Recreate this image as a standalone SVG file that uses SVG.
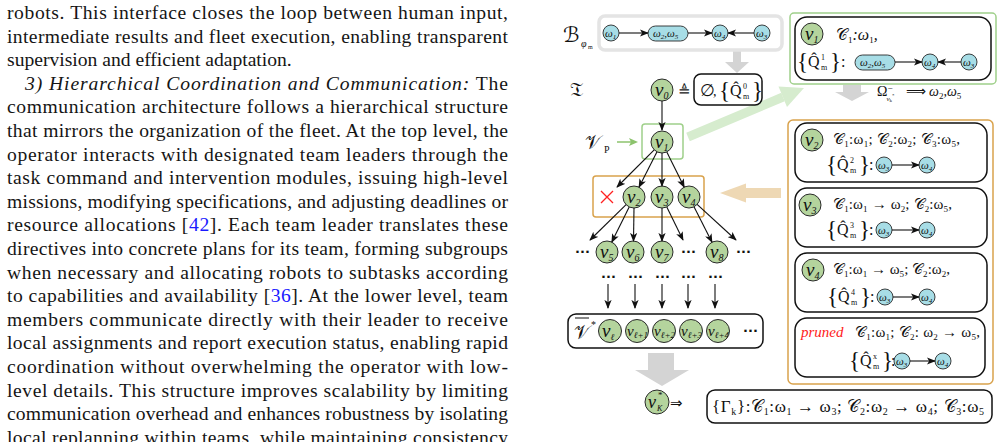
<svg xmlns="http://www.w3.org/2000/svg" width="1000" height="442" viewBox="0 0 1000 442">
<defs>
<style>
.t{font-family:"Liberation Serif",serif;font-size:19.6px;fill:#151515}
.i{font-style:italic}
.lk{fill:#1a1aff}
.m{font-family:"Liberation Serif","DejaVu Serif",serif;fill:#111}
.mi{font-family:"Liberation Serif","DejaVu Serif",serif;font-style:italic;fill:#111}
.sym{font-family:"DejaVu Sans","DejaVu Serif",serif;fill:#111}
.g{fill:#b4d49d;stroke:#2a2a2a;stroke-width:1}
.c{fill:#a7dde6;stroke:#2a2a2a;stroke-width:0.9}
.e{stroke:#111;stroke-width:1.1;fill:none;marker-end:url(#ah)}
.bx{fill:#fff;stroke:#111;stroke-width:1.5}
.dots{font-family:"DejaVu Sans",sans-serif;font-size:13px;font-weight:bold;fill:#111}
</style>
<marker id="ah" viewBox="0 0 10 8" refX="9" refY="4" markerWidth="9" markerHeight="7.2" markerUnits="userSpaceOnUse" orient="auto">
<path d="M0,0 L10,4 L0,8 L2.5,4 z" fill="#111"/>
</marker>
<clipPath id="cl1"><circle cx="637" cy="331" r="11.5"/></clipPath>
<clipPath id="cl2"><circle cx="664" cy="331" r="11.5"/></clipPath>
<clipPath id="cl3"><circle cx="691" cy="331" r="11.5"/></clipPath>
<clipPath id="cl4"><circle cx="718" cy="331" r="11.5"/></clipPath>
</defs>
<rect width="1000" height="442" fill="#fff"/>

<g id="paragraph" class="t">
<text x="7" y="19" textLength="501" lengthAdjust="spacing">robots. This interface closes the loop between human input,</text>
<text x="7" y="42.6" textLength="501" lengthAdjust="spacing">intermediate results and fleet execution, enabling transparent</text>
<text x="7" y="66.2">supervision and efficient adaptation.</text>
<text x="25" y="89.8" textLength="483" lengthAdjust="spacing"><tspan class="i">3) Hierarchical Coordination and Communication:</tspan> The</text>
<text x="7" y="113.4" textLength="501" lengthAdjust="spacing">communication architecture follows a hierarchical structure</text>
<text x="7" y="137" textLength="501" lengthAdjust="spacing">that mirrors the organization of the fleet. At the top level, the</text>
<text x="7" y="160.6" textLength="501" lengthAdjust="spacing">operator interacts with designated team leaders through the</text>
<text x="7" y="184.2" textLength="501" lengthAdjust="spacing">task command and intervention modules, issuing high-level</text>
<text x="7" y="207.8" textLength="501" lengthAdjust="spacing">missions, modifying specifications, and adjusting deadlines or</text>
<text x="7" y="231.4" textLength="501" lengthAdjust="spacing">resource allocations [<tspan class="lk">42</tspan>]. Each team leader translates these</text>
<text x="7" y="255" textLength="501" lengthAdjust="spacing">directives into concrete plans for its team, forming subgroups</text>
<text x="7" y="278.6" textLength="501" lengthAdjust="spacing">when necessary and allocating robots to subtasks according</text>
<text x="7" y="302.2" textLength="501" lengthAdjust="spacing">to capabilities and availability [<tspan class="lk">36</tspan>]. At the lower level, team</text>
<text x="7" y="325.8" textLength="501" lengthAdjust="spacing">members communicate directly with their leader to receive</text>
<text x="7" y="349.4" textLength="501" lengthAdjust="spacing">local assignments and report execution status, enabling rapid</text>
<text x="7" y="373" textLength="501" lengthAdjust="spacing">coordination without overwhelming the operator with low-</text>
<text x="7" y="396.6" textLength="501" lengthAdjust="spacing">level details. This structure improves scalability by limiting</text>
<text x="7" y="420.2" textLength="501" lengthAdjust="spacing">communication overhead and enhances robustness by isolating</text>
<text x="7" y="443.8" textLength="501" lengthAdjust="spacing">local replanning within teams, while maintaining consistency</text>
</g>

<g id="big-arrows">
<rect x="733" y="50" width="8" height="13" fill="#d4d4d4"/>
<polygon points="725,62 749,62 737,73" fill="#d4d4d4"/>
<line x1="688" y1="137" x2="783" y2="97" stroke="#d6ecce" stroke-width="9"/>
<polygon points="804,88 787,107 778.5,86.5" fill="#d6ecce"/>
<rect x="745" y="188" width="36" height="10" fill="#eed8b4"/>
<polygon points="720,193 746,183.5 746,202.5" fill="#eed8b4"/>
<rect x="648" y="353" width="26" height="18" fill="#d4d4d4"/>
<polygon points="635,370 689,370 662,386" fill="#d4d4d4"/>
<rect x="843" y="85" width="18" height="8" fill="#d4d4d4"/>
<polygon points="835,92 869,92 852,101" fill="#d4d4d4"/>
</g>

<g id="buchi">
<text x="563" y="42" class="sym" font-size="21">ℬ</text>
<text x="581" y="47" class="mi" font-size="10">φ</text>
<text x="588" y="49" class="m" font-size="6">m</text>
<rect x="599" y="16" width="183" height="34" rx="6" fill="#fff" stroke="#e4e4e4" stroke-width="3.5"/>
<circle class="c" cx="611" cy="33" r="8"/>
<text x="605" y="37" class="mi" font-size="11">ω<tspan font-size="7" dy="2">1</tspan></text>
<rect class="c" x="648" y="26" width="40" height="15" rx="7.5"/>
<text x="653" y="37" class="mi" font-size="11">ω<tspan font-size="7" dy="2">2</tspan><tspan dy="-2">,ω</tspan><tspan font-size="7" dy="2">5</tspan></text>
<circle class="c" cx="720" cy="33" r="8"/>
<text x="714" y="37" class="mi" font-size="11">ω<tspan font-size="7" dy="2">4</tspan></text>
<circle class="c" cx="762" cy="33" r="8"/>
<text x="756" y="37" class="mi" font-size="11">ω<tspan font-size="7" dy="2">3</tspan></text>
<line class="e" x1="619" y1="33" x2="648" y2="33"/>
<line class="e" x1="688" y1="33" x2="712" y2="33"/>
<line class="e" x1="754" y1="33" x2="728" y2="33"/>
</g>

<g id="root">
<text x="570" y="96" class="sym" font-size="20">𝔗</text>
<circle class="g" cx="662" cy="90" r="11"/>
<text x="655" y="96" class="mi" font-size="19">ν<tspan font-size="10" dy="3">0</tspan></text>
<text x="678" y="96" class="m" font-size="15">≜</text>
<rect class="bx" x="694" y="74" width="68" height="31" rx="7"/>
<text x="700" y="96" class="m" font-size="17">∅</text>
<text x="713" y="96" class="m" font-size="14">,</text>
<text x="719" y="98" class="m" font-size="23">{</text>
<text x="730" y="96" class="m" font-size="16">Q̂</text>
<text x="743" y="89" class="m" font-size="8">0</text>
<text x="743" y="99" class="m" font-size="8">m</text>
<text x="752" y="98" class="m" font-size="23">}</text>
</g>

<g id="nu1">
<rect x="642" y="124" width="41" height="35" rx="3" fill="none" stroke="#9fd08a" stroke-width="1.5"/>
<circle class="g" cx="662" cy="142" r="11"/>
<text x="655" y="148" class="mi" font-size="19">ν<tspan font-size="10" dy="3">1</tspan></text>
<text x="585" y="149" class="sym" font-size="19">𝒱</text>
<text x="604" y="153" class="m" font-size="10">P</text>
<line x1="617" y1="142" x2="632" y2="142" stroke="#8cc36d" stroke-width="1.5"/>
<polygon points="638,142 629,138 631,142 629,146" fill="#8cc36d"/>
</g>

<g id="level1">
<rect x="593" y="176" width="111" height="41" rx="3" fill="none" stroke="#d9a24c" stroke-width="1.5"/>
<path d="M601,191 L613,203 M613,191 L601,203" stroke="#ff2020" stroke-width="1.3"/>
<circle class="g" cx="634" cy="197" r="11"/>
<text x="627" y="203" class="mi" font-size="19">ν<tspan font-size="10" dy="3">2</tspan></text>
<circle class="g" cx="662" cy="197" r="11"/>
<text x="655" y="203" class="mi" font-size="19">ν<tspan font-size="10" dy="3">3</tspan></text>
<circle class="g" cx="689" cy="197" r="11"/>
<text x="682" y="203" class="mi" font-size="19">ν<tspan font-size="10" dy="3">4</tspan></text>
</g>

<g id="level2">
<text x="575" y="256" class="dots">···</text>
<circle class="g" cx="607" cy="252" r="11"/>
<text x="600" y="258" class="mi" font-size="19">ν<tspan font-size="10" dy="3">5</tspan></text>
<circle class="g" cx="633" cy="252" r="11"/>
<text x="626" y="258" class="mi" font-size="19">ν<tspan font-size="10" dy="3">6</tspan></text>
<circle class="g" cx="662" cy="252" r="11"/>
<text x="655" y="258" class="mi" font-size="19">ν<tspan font-size="10" dy="3">7</tspan></text>
<text x="681" y="256" class="dots">···</text>
<circle class="g" cx="717" cy="252" r="11"/>
<text x="710" y="258" class="mi" font-size="19">ν<tspan font-size="10" dy="3">8</tspan></text>
<text x="736" y="256" class="dots">···</text>
</g>

<g id="level3">
<text x="601" y="281" class="dots">···</text>
<text x="628" y="281" class="dots">···</text>
<text x="655" y="281" class="dots">···</text>
<text x="681" y="281" class="dots">···</text>
<text x="708" y="281" class="dots">···</text>
</g>

<g id="vstar">
<rect class="bx" x="568" y="314" width="195" height="34" rx="8"/>
<text x="574" y="339" class="sym" font-size="19">𝒱</text>
<line x1="575" y1="318" x2="589" y2="318" stroke="#111" stroke-width="1"/>
<text x="591" y="328" class="m" font-size="10">*</text>
<circle class="g" cx="610" cy="331" r="11.5"/>
<text x="602" y="337" class="mi" font-size="19">ν<tspan font-size="9" dy="3">ℓ</tspan></text>
<circle class="g" cx="637" cy="331" r="11.5"/>
<text x="627" y="336" class="mi" font-size="15" clip-path="url(#cl1)">ν<tspan font-size="9" dy="2">ℓ+1</tspan></text>
<circle class="g" cx="664" cy="331" r="11.5"/>
<text x="654" y="336" class="mi" font-size="15" clip-path="url(#cl2)">ν<tspan font-size="9" dy="2">ℓ+2</tspan></text>
<circle class="g" cx="691" cy="331" r="11.5"/>
<text x="681" y="336" class="mi" font-size="15" clip-path="url(#cl3)">ν<tspan font-size="9" dy="2">ℓ+3</tspan></text>
<circle class="g" cx="718" cy="331" r="11.5"/>
<text x="708" y="336" class="mi" font-size="15" clip-path="url(#cl4)">ν<tspan font-size="9" dy="2">ℓ+4</tspan></text>
<text x="743" y="335" class="dots">···</text>
</g>

<g id="result">
<circle class="g" cx="657" cy="402" r="12"/>
<text x="648" y="408" class="mi" font-size="18">ν</text>
<text x="658" y="398" class="m" font-size="9">*</text>
<text x="657" y="411" class="mi" font-size="8">K</text>
<text x="670" y="408" class="sym" font-size="15">⇒</text>
<rect class="bx" x="707" y="390" width="285" height="33" rx="8"/>
<text x="712" y="412" class="m" font-size="17" textLength="272" lengthAdjust="spacing">{Γ<tspan font-size="10" dy="3">k</tspan><tspan dy="-3">}:</tspan><tspan class="sym">𝒞</tspan><tspan font-size="10" dy="3">1</tspan><tspan dy="-3">:ω</tspan><tspan font-size="10" dy="3">1</tspan><tspan dy="-3"> → ω</tspan><tspan font-size="10" dy="3">3</tspan><tspan dy="-3">; </tspan><tspan class="sym">𝒞</tspan><tspan font-size="10" dy="3">2</tspan><tspan dy="-3">:ω</tspan><tspan font-size="10" dy="3">2</tspan><tspan dy="-3"> → ω</tspan><tspan font-size="10" dy="3">4</tspan><tspan dy="-3">; </tspan><tspan class="sym">𝒞</tspan><tspan font-size="10" dy="3">3</tspan><tspan dy="-3">:ω</tspan><tspan font-size="10" dy="3">5</tspan></text>
</g>

<g id="edges">
<line class="e" x1="662" y1="101" x2="662" y2="130"/>
<line class="e" x1="654.2" y1="149.8" x2="617" y2="187"/>
<line class="e" x1="657" y1="151.8" x2="639" y2="187.2"/>
<line class="e" x1="662" y1="153" x2="662" y2="186"/>
<line class="e" x1="666.8" y1="151.9" x2="684.2" y2="187.1"/>
<line class="e" x1="626.1" y1="204.7" x2="590" y2="240"/>
<line class="e" x1="629.2" y1="206.9" x2="611.8" y2="242.1"/>
<line class="e" x1="634" y1="208" x2="633.5" y2="241"/>
<line class="e" x1="662" y1="208" x2="662" y2="241"/>
<line class="e" x1="666.8" y1="206.9" x2="683" y2="240"/>
<line class="e" x1="694" y1="206.8" x2="712" y2="242.2"/>
<line class="e" x1="697.1" y1="204.4" x2="736" y2="240"/>
<line class="e" x1="608" y1="284" x2="608" y2="308"/>
<line class="e" x1="635" y1="284" x2="635" y2="308"/>
<line class="e" x1="662" y1="284" x2="662" y2="308"/>
<line class="e" x1="688" y1="284" x2="688" y2="308"/>
<line class="e" x1="715" y1="284" x2="715" y2="308"/>
</g>

<g id="panel-nu1">
<rect x="790" y="13" width="206" height="71" rx="4" fill="#fff" stroke="#9fd08a" stroke-width="1.5"/>
<rect class="bx" x="795" y="17" width="196" height="63" rx="12"/>
<circle class="g" cx="812" cy="34" r="11"/>
<text x="805" y="40" class="mi" font-size="19">ν<tspan font-size="10" dy="3">1</tspan></text>
<text x="836" y="40" class="mi" font-size="16"><tspan class="sym" font-style="normal">𝒞</tspan><tspan font-size="9" dy="3" font-style="normal">1</tspan><tspan dy="-3">:ω</tspan><tspan font-size="9" dy="3" font-style="normal">1</tspan><tspan dy="-3">,</tspan></text>
<text x="797" y="69" class="m" font-size="23">{</text>
<text x="808" y="67" class="m" font-size="16">Q̂</text>
<text x="821" y="60" class="m" font-size="8">1</text>
<text x="821" y="70" class="m" font-size="8">m</text>
<text x="830" y="69" class="m" font-size="23">}</text>
<text x="841" y="67" class="m" font-size="16">:</text>
<rect class="c" x="855" y="55" width="40" height="15" rx="7.5"/>
<text x="860" y="66" class="mi" font-size="11">ω<tspan font-size="7" dy="2">2</tspan><tspan dy="-2">,ω</tspan><tspan font-size="7" dy="2">5</tspan></text>
<circle class="c" cx="930" cy="62" r="8"/>
<text x="924" y="66" class="mi" font-size="11">ω<tspan font-size="7" dy="2">4</tspan></text>
<circle class="c" cx="969" cy="62" r="8"/>
<text x="963" y="66" class="mi" font-size="11">ω<tspan font-size="7" dy="2">3</tspan></text>
<line class="e" x1="895" y1="62" x2="922" y2="62"/>
<line class="e" x1="961" y1="62" x2="938" y2="62"/>
<text x="877" y="96" class="m" font-size="14">Ω<tspan font-size="9" dy="-5">−</tspan><tspan class="mi" font-size="7" dx="-6" dy="10">ν</tspan><tspan font-size="5" dy="1">k</tspan><tspan font-size="5" dy="-5">*</tspan></text>
<text x="906" y="96" class="sym" font-size="14">⟹</text>
<text x="929" y="96" class="mi" font-size="14">ω<tspan font-size="9" dy="3" font-style="normal">2</tspan><tspan dy="-3">,ω</tspan><tspan font-size="9" dy="3" font-style="normal">5</tspan></text>
</g>

<g id="panel-children">
<rect x="788" y="120" width="205" height="264" rx="5" fill="#fff" stroke="#d9a24c" stroke-width="1.5"/>
</g>

<g id="panel-nu2">
<rect class="bx" x="795" y="123" width="192" height="59" rx="12"/>
<circle class="g" cx="812" cy="140" r="11"/>
<text x="805" y="146" class="mi" font-size="19">ν<tspan font-size="10" dy="3">2</tspan></text>
<text x="833" y="144" class="m" font-size="15" textLength="127" lengthAdjust="spacing"><tspan class="sym">𝒞</tspan><tspan font-size="9" dy="3">1</tspan><tspan dy="-3">:ω</tspan><tspan font-size="9" dy="3">1</tspan><tspan dy="-3">; </tspan><tspan class="sym">𝒞</tspan><tspan font-size="9" dy="3">2</tspan><tspan dy="-3">:ω</tspan><tspan font-size="9" dy="3">2</tspan><tspan dy="-3">; </tspan><tspan class="sym">𝒞</tspan><tspan font-size="9" dy="3">3</tspan><tspan dy="-3">:ω</tspan><tspan font-size="9" dy="3">5</tspan><tspan dy="-3">,</tspan></text>
<text x="826" y="172" class="m" font-size="23">{</text>
<text x="837" y="170" class="m" font-size="16">Q̂</text>
<text x="850" y="163" class="m" font-size="8">2</text>
<text x="850" y="173" class="m" font-size="8">m</text>
<text x="859" y="172" class="m" font-size="23">}</text>
<text x="869" y="170" class="m" font-size="16">:</text>
<circle class="c" cx="884" cy="165" r="8"/>
<text x="878" y="169" class="mi" font-size="11">ω<tspan font-size="7" dy="2">3</tspan></text>
<circle class="c" cx="927" cy="165" r="8"/>
<text x="921" y="169" class="mi" font-size="11">ω<tspan font-size="7" dy="2">4</tspan></text>
<line class="e" x1="892" y1="165" x2="919" y2="165"/>
</g>

<g id="panel-nu3">
<rect class="bx" x="795" y="188" width="192" height="59" rx="12"/>
<circle class="g" cx="810" cy="205" r="11"/>
<text x="803" y="211" class="mi" font-size="19">ν<tspan font-size="10" dy="3">3</tspan></text>
<text x="833" y="209" class="m" font-size="15" textLength="119" lengthAdjust="spacing"><tspan class="sym">𝒞</tspan><tspan font-size="9" dy="3">1</tspan><tspan dy="-3">:ω</tspan><tspan font-size="9" dy="3">1</tspan><tspan dy="-3"> → ω</tspan><tspan font-size="9" dy="3">2</tspan><tspan dy="-3">; </tspan><tspan class="sym">𝒞</tspan><tspan font-size="9" dy="3">2</tspan><tspan dy="-3">:ω</tspan><tspan font-size="9" dy="3">5</tspan><tspan dy="-3">,</tspan></text>
<text x="826" y="237" class="m" font-size="23">{</text>
<text x="837" y="235" class="m" font-size="16">Q̂</text>
<text x="850" y="228" class="m" font-size="8">3</text>
<text x="850" y="238" class="m" font-size="8">m</text>
<text x="859" y="237" class="m" font-size="23">}</text>
<text x="869" y="235" class="m" font-size="16">:</text>
<circle class="c" cx="884" cy="230" r="8"/>
<text x="878" y="234" class="mi" font-size="11">ω<tspan font-size="7" dy="2">3</tspan></text>
<circle class="c" cx="927" cy="230" r="8"/>
<text x="921" y="234" class="mi" font-size="11">ω<tspan font-size="7" dy="2">4</tspan></text>
<line class="e" x1="892" y1="230" x2="919" y2="230"/>
</g>

<g id="panel-nu4">
<rect class="bx" x="795" y="253" width="192" height="59" rx="12"/>
<circle class="g" cx="813" cy="270" r="11"/>
<text x="806" y="276" class="mi" font-size="19">ν<tspan font-size="10" dy="3">4</tspan></text>
<text x="833" y="274" class="m" font-size="15" textLength="117" lengthAdjust="spacing"><tspan class="sym">𝒞</tspan><tspan font-size="9" dy="3">1</tspan><tspan dy="-3">:ω</tspan><tspan font-size="9" dy="3">1</tspan><tspan dy="-3"> → ω</tspan><tspan font-size="9" dy="3">5</tspan><tspan dy="-3">; </tspan><tspan class="sym">𝒞</tspan><tspan font-size="9" dy="3">2</tspan><tspan dy="-3">:ω</tspan><tspan font-size="9" dy="3">2</tspan><tspan dy="-3">,</tspan></text>
<text x="827" y="304" class="m" font-size="23">{</text>
<text x="838" y="302" class="m" font-size="16">Q̂</text>
<text x="851" y="295" class="m" font-size="8">4</text>
<text x="851" y="305" class="m" font-size="8">m</text>
<text x="860" y="304" class="m" font-size="23">}</text>
<text x="870" y="302" class="m" font-size="16">:</text>
<circle class="c" cx="885" cy="297" r="8"/>
<text x="879" y="301" class="mi" font-size="11">ω<tspan font-size="7" dy="2">3</tspan></text>
<circle class="c" cx="927" cy="297" r="8"/>
<text x="921" y="301" class="mi" font-size="11">ω<tspan font-size="7" dy="2">4</tspan></text>
<line class="e" x1="893" y1="297" x2="919" y2="297"/>
</g>

<g id="panel-pruned">
<rect class="bx" x="795" y="318" width="190" height="59" rx="12"/>
<text x="801" y="337" class="mi" font-size="15" style="fill:#ff1a1a">pruned</text>
<text x="855" y="337" class="m" font-size="15" textLength="125" lengthAdjust="spacing"><tspan class="sym">𝒞</tspan><tspan font-size="9" dy="3">1</tspan><tspan dy="-3">:ω</tspan><tspan font-size="9" dy="3">1</tspan><tspan dy="-3">; </tspan><tspan class="sym">𝒞</tspan><tspan font-size="9" dy="3">2</tspan><tspan dy="-3">: ω</tspan><tspan font-size="9" dy="3">2</tspan><tspan dy="-3"> → ω</tspan><tspan font-size="9" dy="3">5</tspan><tspan dy="-3">,</tspan></text>
<text x="849" y="368" class="m" font-size="23">{</text>
<text x="860" y="366" class="m" font-size="16">Q̂</text>
<text x="873" y="359" class="m" font-size="8">x</text>
<text x="873" y="369" class="m" font-size="8">m</text>
<text x="882" y="368" class="m" font-size="23">}</text>
<text x="891" y="366" class="m" font-size="16">:</text>
<circle class="c" cx="902" cy="361" r="8"/>
<text x="896" y="365" class="mi" font-size="11">ω<tspan font-size="7" dy="2">3</tspan></text>
<circle class="c" cx="943" cy="361" r="8"/>
<text x="937" y="365" class="mi" font-size="11">ω<tspan font-size="7" dy="2">4</tspan></text>
<line class="e" x1="910" y1="361" x2="935" y2="361"/>
</g>
</svg>
